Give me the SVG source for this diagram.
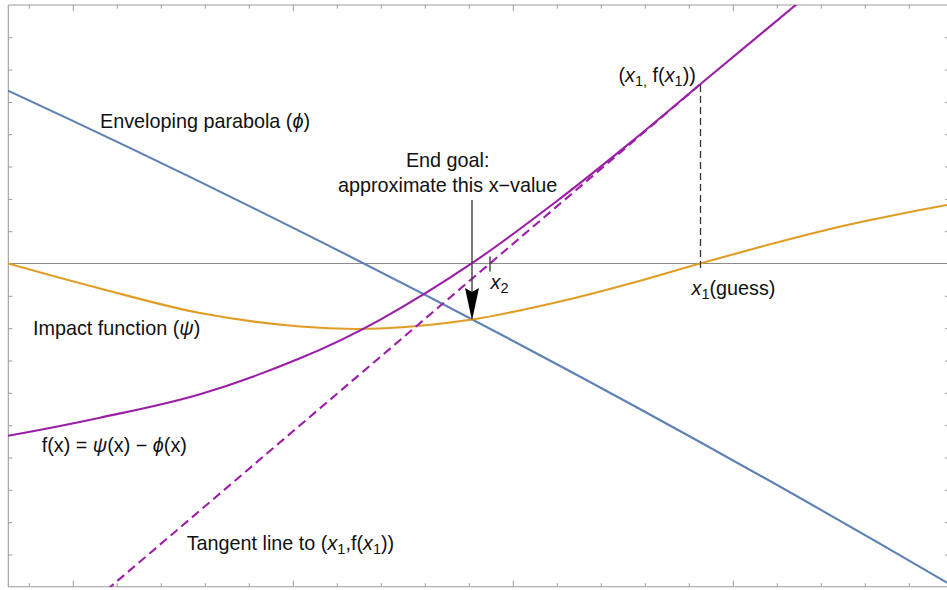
<svg xmlns="http://www.w3.org/2000/svg" width="947" height="590" viewBox="0 0 947 590">
<style>
  .frame { stroke: #9a9a9a; stroke-width: 1.1; fill: none; }
  .tick { stroke: #9a9a9a; stroke-width: 1; fill: none; }
  .axis { stroke: #8c8c8c; stroke-width: 1.2; fill: none; }
  .curve { fill: none; stroke-width: 2.1; stroke-linejoin: round; }
  .blue { stroke: #5E81B5; }
  .orange { stroke: #E19C24; }
  .purple { stroke: #9B1FA6; }
  .tangent { stroke: #9B1FA6; stroke-dasharray: 9 5; }
  .guide { stroke: #333; stroke-width: 1.3; fill: none; }
  .lbl { font-family: "Liberation Sans", Arial, "DejaVu Sans", sans-serif; font-size: 19.8px; fill: #111; }
  .it { font-style: italic; }
  .sub { font-size: 14.5px; }
</style>
<defs>
  <clipPath id="plot"><rect x="8" y="5" width="940" height="582"/></clipPath>
</defs>
<rect x="0" y="0" width="947" height="590" fill="#ffffff"/>

<g id="frame">
  <path class="frame" d="M8.3,5 H948 M8.3,5 V587 M8.3,586.7 H948"/>
  <path class="tick" d="M29.3,5 v3.5 M117.3,5 v3.5 M161.3,5 v3.5 M205.3,5 v3.5 M249.3,5 v3.5 M337.3,5 v3.5 M381.3,5 v3.5 M425.3,5 v3.5 M469.3,5 v3.5 M557.3,5 v3.5 M601.3,5 v3.5 M645.3,5 v3.5 M689.3,5 v3.5 M777.3,5 v3.5 M821.3,5 v3.5 M865.3,5 v3.5 M909.3,5 v3.5
    M73.3,5 v6 M293.3,5 v6 M513.3,5 v6 M733.3,5 v6
    M29.3,586.7 v-3.5 M117.3,586.7 v-3.5 M161.3,586.7 v-3.5 M205.3,586.7 v-3.5 M249.3,586.7 v-3.5 M337.3,586.7 v-3.5 M381.3,586.7 v-3.5 M425.3,586.7 v-3.5 M469.3,586.7 v-3.5 M557.3,586.7 v-3.5 M601.3,586.7 v-3.5 M645.3,586.7 v-3.5 M689.3,586.7 v-3.5 M777.3,586.7 v-3.5 M821.3,586.7 v-3.5 M865.3,586.7 v-3.5 M909.3,586.7 v-3.5
    M73.3,586.7 v-6 M293.3,586.7 v-6 M513.3,586.7 v-6 M733.3,586.7 v-6
    M8.3,37.7 h4 M8.3,70 h4 M8.3,102.4 h4 M8.3,134.7 h4 M8.3,167 h4 M8.3,199.4 h4 M8.3,231.7 h4 M8.3,296.3 h4 M8.3,328.7 h4 M8.3,361 h4 M8.3,393.3 h4 M8.3,425.7 h4 M8.3,458 h4 M8.3,490.3 h4 M8.3,522.7 h4 M8.3,555 h4
    M948,37.7 h-3 M948,70 h-3 M948,102.4 h-3 M948,134.7 h-3 M948,167 h-3 M948,199.4 h-3 M948,231.7 h-3 M948,296.3 h-3 M948,328.7 h-3 M948,361 h-3 M948,393.3 h-3 M948,425.7 h-3 M948,458 h-3 M948,490.3 h-3 M948,522.7 h-3 M948,555 h-3"/>
  <path class="axis" d="M8.3,263.5 H948"/>
</g>

<g id="connectors" clip-path="url(#plot)">
  <path id="phi" class="curve blue" d="M8,90.7 Q477.5,307.6 947,582.7"/>
  <path id="psi" class="curve orange" d="M8,263.5 C38.67,272.09 69.33,280.59 100,288.5 C133.33,297.09 166.67,306.67 200,313 C233.33,319.33 266.67,323.63 300,326.5 C326.67,328.8 353.33,329.59 380,328.5 C410.67,327.25 441.33,324.1 472,319.5 C501.33,315.1 530.67,308.18 560,301.5 C583.33,296.19 606.67,289.83 630,283.5 C653.33,277.17 676.67,270.05 700,263.5 C720,257.88 740,252.31 760,247 C783.33,240.81 806.67,234.56 830,229 C850,224.23 870,220.1 890,216 C909,212.1 928,208.42 947,205"/>
  <path id="tangent" class="curve tangent" d="M106.7,590 L700,84.5"/>
  <path id="f" class="curve purple" d="M8,435.8 C38.67,430.22 69.33,424.33 100,417.7 C133.33,410.49 166.67,404.11 200,394.2 C233.33,384.29 266.67,372.11 300,358.3 C326.67,347.25 353.33,334.57 380,319.8 C410.67,302.82 441.33,283.85 472,263.2 C501.33,243.45 530.67,221.07 560,198.7 C583.33,180.91 606.67,161.93 630,142.9 C653.33,123.87 676.67,103.96 700,84.5 C720,67.82 740,51.13 760,34.6 C783.33,15.31 806.67,-4.23 830,-23.1"/>
  <path id="x1-drop" class="guide" stroke-dasharray="7 4" d="M700.5,85 V271"/>
  <path id="x2-mark" class="guide" d="M490,256.5 V271.5"/>
  <g id="goal-arrow">
    <path class="guide" d="M472,200 V293"/>
    <path d="M472,320.5 L465,288 L472,292 L479,288 Z" fill="#000"/>
  </g>
</g>

<g id="label-phi"><text class="lbl" x="100" y="128.3">Enveloping parabola (<tspan class="it">ϕ</tspan>)</text></g>
<g id="label-goal">
  <text class="lbl" x="447.7" y="166.5" text-anchor="middle">End goal:</text>
  <text class="lbl" x="447.7" y="191.5" text-anchor="middle">approximate this x−value</text>
</g>
<g id="label-point"><text class="lbl" x="618.5" y="81.5">(<tspan class="it">x</tspan><tspan class="sub" dy="4">1,</tspan><tspan dy="-4"> f(</tspan><tspan class="it">x</tspan><tspan class="sub" dy="4">1</tspan><tspan dy="-4">))</tspan></text></g>
<g id="label-x1"><text class="lbl" x="691.5" y="294.5"><tspan class="it">x</tspan><tspan class="sub" dy="4">1</tspan><tspan dy="-4">(guess)</tspan></text></g>
<g id="label-x2"><text class="lbl" x="490.5" y="288.5"><tspan class="it">x</tspan><tspan class="sub" dy="4">2</tspan></text></g>
<g id="label-psi"><text class="lbl" x="33" y="334.5">Impact function (<tspan class="it">ψ</tspan>)</text></g>
<g id="label-f"><text class="lbl" x="41.7" y="452">f(x) = <tspan class="it">ψ</tspan>(x) − <tspan class="it">ϕ</tspan>(x)</text></g>
<g id="label-tangent"><text class="lbl" x="186.7" y="549.5">Tangent line to (<tspan class="it">x</tspan><tspan class="sub" dy="4">1</tspan><tspan dy="-4">,f(</tspan><tspan class="it">x</tspan><tspan class="sub" dy="4">1</tspan><tspan dy="-4">))</tspan></text></g>
</svg>
